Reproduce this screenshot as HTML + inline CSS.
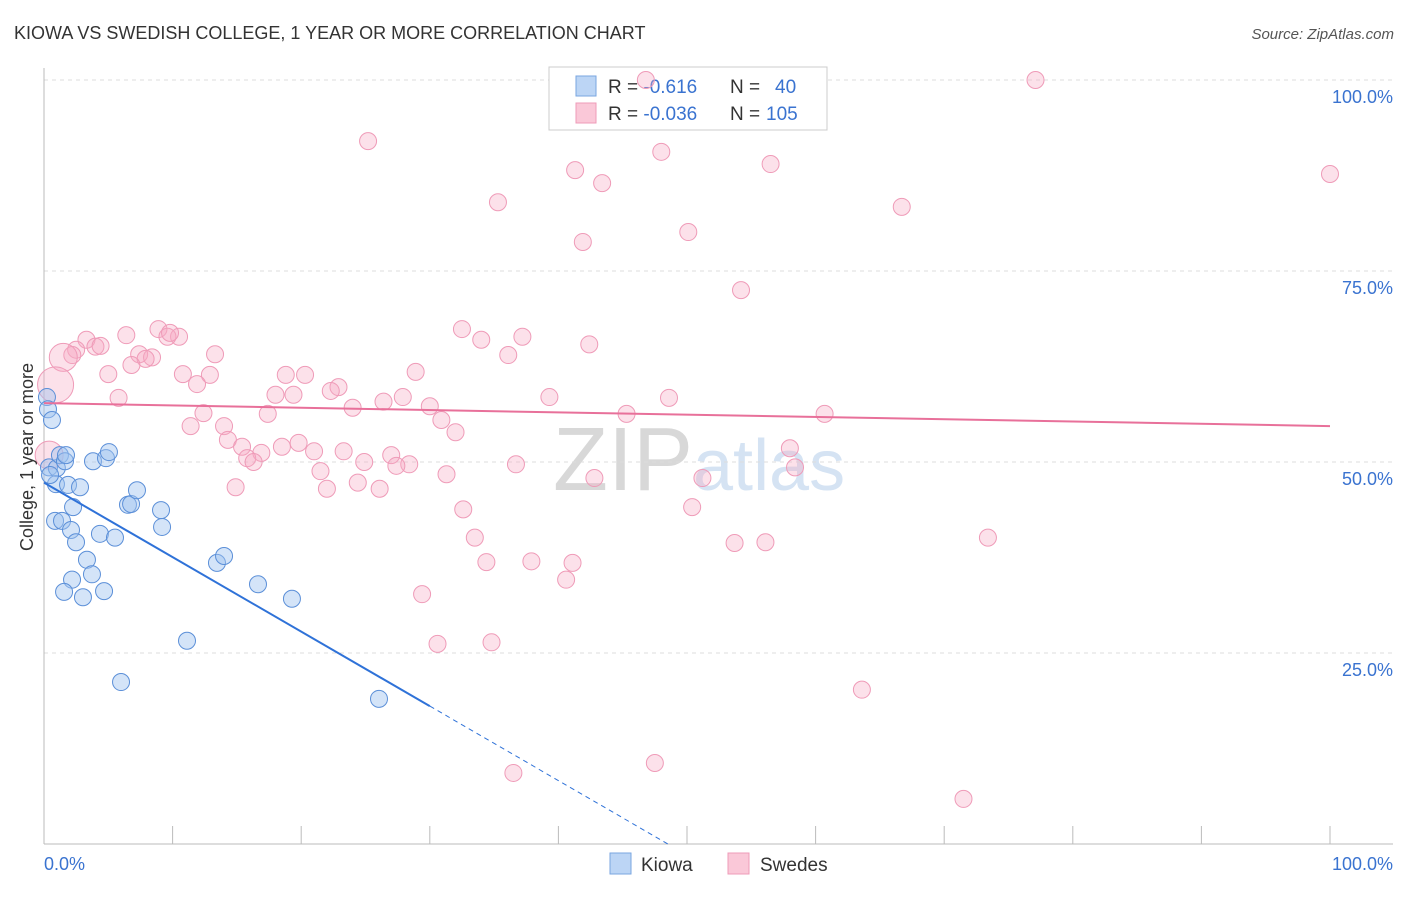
<!DOCTYPE html>
<html><head><meta charset="utf-8">
<style>
body{margin:0;background:#fff;font-family:"Liberation Sans",sans-serif;}
svg text{font-family:"Liberation Sans",sans-serif;}
</style></head>
<body>
<svg width="1406" height="892" viewBox="0 0 1406 892" xmlns="http://www.w3.org/2000/svg">
<text x="14" y="39" font-size="18" fill="#333">KIOWA VS SWEDISH COLLEGE, 1 YEAR OR MORE CORRELATION CHART</text>
<text x="1394" y="39" font-size="15" fill="#555" text-anchor="end" font-style="italic">Source: ZipAtlas.com</text>
<text x="553" y="490" font-size="90" fill="#d8d8d8" font-family="Liberation Serif">ZIP<tspan fill="#d5e3f3" font-family="Liberation Sans" font-size="72">atlas</tspan></text>
<g id="grid"></g>
<g id="axes"></g>
<g>
<rect x="549" y="67" width="278" height="63" fill="#fff" stroke="#ccc"/>
<rect x="576" y="76" width="20" height="20" fill="#bcd5f5" stroke="#7aa6e0"/>
<rect x="576" y="103" width="20" height="20" fill="#fac8d8" stroke="#ef9bb8"/>
<text x="608" y="93" font-size="19" fill="#333">R = <tspan fill="#3a73d0">-0.616</tspan><tspan x="730">N = </tspan><tspan fill="#3a73d0" x="775">40</tspan></text>
<text x="608" y="120" font-size="19" fill="#333">R = <tspan fill="#3a73d0">-0.036</tspan><tspan x="730">N = </tspan><tspan fill="#3a73d0" x="766">105</tspan></text>
</g>
<g id="marks"></g>
<text transform="translate(33,457) rotate(-90)" font-size="18" fill="#333" text-anchor="middle">College, 1 year or more</text>
<g>
<rect x="610" y="853" width="21" height="21" fill="#bcd5f5" stroke="#7aa6e0"/>
<text x="641" y="871" font-size="19" fill="#333">Kiowa</text>
<rect x="728" y="853" width="21" height="21" fill="#fac8d8" stroke="#ef9bb8"/>
<text x="760" y="871" font-size="19" fill="#333">Swedes</text>
</g>
</svg>
<script>
const blueX=[0.23,0.31,0.62,0.39,1.0,1.24,1.63,1.71,0.93,1.87,2.8,0.86,1.4,2.26,2.1,2.49,3.34,3.73,2.18,1.56,3.03,4.67,3.81,4.82,5.05,4.35,5.52,6.53,6.77,7.23,9.1,9.18,13.45,14.0,16.64,19.28,11.12,5.99,26.05,0.47];
const blueY=[58.5,56.9,55.5,49.3,49.2,50.9,50.1,50.9,47.1,47.0,46.7,42.3,42.3,44.1,41.1,39.5,37.2,35.3,34.6,33.0,32.3,33.1,50.1,50.5,51.3,40.6,40.1,44.4,44.5,46.3,43.7,41.5,36.8,37.7,34.0,32.1,26.6,21.2,19.0,48.3];
const pinkX=[77.1,25.2,48.0,41.3,56.5,43.4,100,35.3,66.7,50.1,41.9,54.2,8.9,32.5,6.4,10.5,9.6,9.8,3.3,4.0,4.4,2.5,2.2,1.5,34.0,37.2,42.4,36.1,13.3,7.4,8.4,7.9,6.8,5.0,10.8,12.9,18.8,20.3,11.9,28.9,22.9,22.3,18.0,19.4,27.9,26.4,39.3,48.6,5.8,0.9,12.4,17.4,24.0,30.0,30.9,45.3,60.7,11.4,14.0,14.3,32.0,15.4,16.9,18.5,19.8,21.0,23.3,15.8,16.3,24.9,27.0,28.4,27.4,21.5,31.3,36.7,58.4,58.0,42.8,51.2,14.9,22.0,24.4,26.1,0.4,32.6,50.4,33.5,53.7,56.1,73.4,34.4,37.9,41.1,40.6,29.4,30.6,34.8,63.6,47.5,36.5,71.5,46.8];
const pinkY=[100.0,92.0,90.6,88.2,89.0,86.5,87.7,84.0,83.4,80.1,78.8,72.5,67.4,67.4,66.6,66.4,66.4,66.9,66.0,65.1,65.2,64.7,64.0,63.7,66.0,66.4,65.4,64.0,64.1,64.1,63.7,63.5,62.7,61.5,61.5,61.4,61.4,61.4,60.2,61.8,59.8,59.3,58.8,58.8,58.5,57.9,58.5,58.4,58.4,60.1,56.4,56.3,57.1,57.3,55.5,56.3,56.3,54.7,54.7,52.9,53.9,52.0,51.2,52.0,52.5,51.4,51.4,50.5,50.0,50.0,50.9,49.7,49.5,48.8,48.4,49.7,49.3,51.8,47.9,47.9,46.7,46.5,47.3,46.5,50.9,43.8,44.1,40.1,39.4,39.5,40.1,36.9,37.0,36.8,34.6,32.7,26.2,26.4,20.2,10.6,9.3,5.9,100.0];
const pinkBig={23:14,49:18,84:14};
const yTicks=[25,50,75,100];
const blueTrend=[47.3,-0.975];
const pinkTrend=[57.7,-0.030];
const NS="http://www.w3.org/2000/svg";
const X=v=>44+v*12.86, Y=v=>844-v*7.64;
function mk(tag,attrs,parent){const e=document.createElementNS(NS,tag);for(const k in attrs)e.setAttribute(k,attrs[k]);document.getElementById(parent).appendChild(e);return e;}
yTicks.forEach(t=>{
  const l=mk('line',{x1:44,x2:1393,y1:Y(t),y2:Y(t),stroke:'#ddd','stroke-dasharray':'4,4'},'grid');
  
  
  const tx=mk('text',{x:1393,y:Y(t)+23,'font-size':18,fill:'#3a73d0','text-anchor':'end'},'grid');
  tx.textContent=t.toFixed(1)+'%';
  
  
});
let ax=mk('line',{x1:44,x2:1393,y1:844,y2:844,stroke:'#bbb'},'axes');


let ay=mk('line',{x1:44,x2:44,y1:68,y2:844,stroke:'#bbb'},'axes');


for(let i=1;i<=10;i++){const t=mk('line',{x1:X(i*10),x2:X(i*10),y1:826,y2:844,stroke:'#bbb'},'axes');

}
[[0,'0.0%','start',44],[100,'100.0%','end',1393]].forEach(a=>{const t=mk('text',{x:a[3],y:870,'font-size':18,fill:'#3a73d0','text-anchor':a[2]},'axes');t.textContent=a[1];

});
pinkX.forEach((x,i)=>{const c=mk('circle',{cx:X(x),cy:Y(pinkY[i]),r:pinkBig[i]||8.5,fill:'rgba(247,170,196,0.35)',stroke:'#ef9bb8','stroke-width':1},'marks');

});
blueX.forEach((x,i)=>{const c=mk('circle',{cx:X(x),cy:Y(blueY[i]),r:8.5,fill:'rgba(160,195,240,0.45)',stroke:'#5b8fd8','stroke-width':1},'marks');

});
let pl=mk('line',{x1:X(0),y1:Y(pinkTrend[0]),x2:X(100),y2:Y(pinkTrend[0]+pinkTrend[1]*100),stroke:'#e8709a','stroke-width':2},'marks');


const xEnd=-blueTrend[0]/blueTrend[1];
let bl=mk('line',{x1:X(0),y1:Y(blueTrend[0]),x2:X(30),y2:Y(blueTrend[0]+blueTrend[1]*30),stroke:'#2f72d8','stroke-width':2},'marks');


let bd=mk('line',{x1:X(30),y1:Y(blueTrend[0]+blueTrend[1]*30),x2:X(xEnd),y2:Y(0),stroke:'#2f72d8','stroke-width':1,'stroke-dasharray':'5,4'},'marks');


</script>
</body></html>
